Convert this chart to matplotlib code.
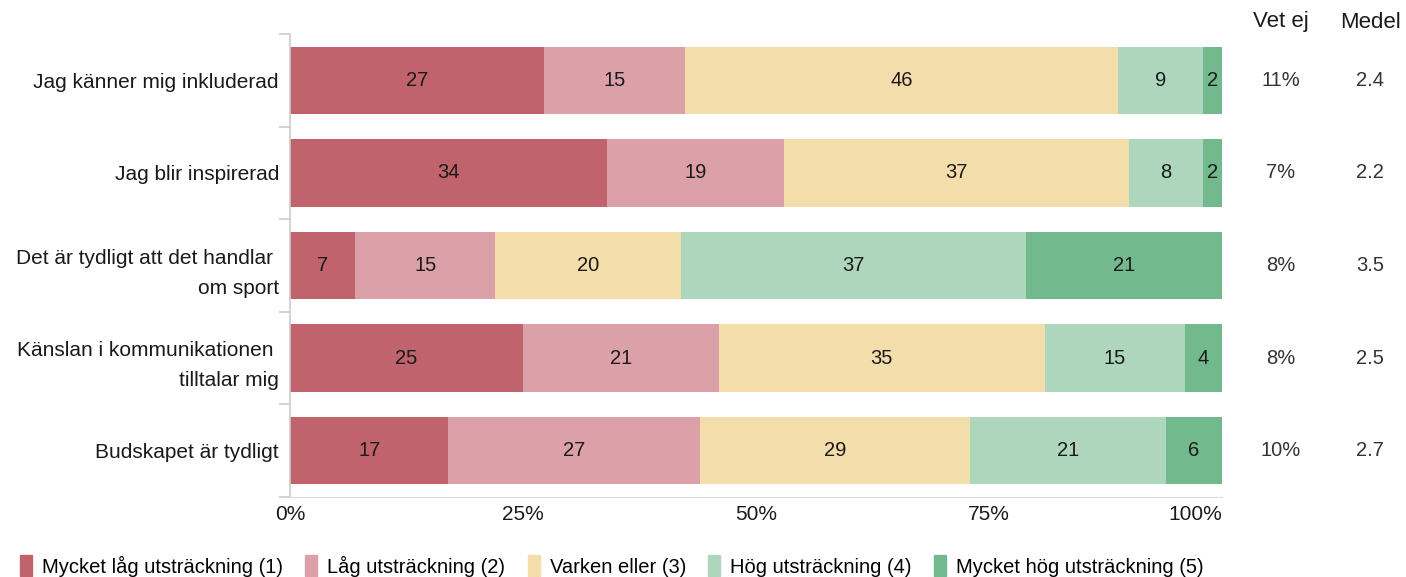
import matplotlib.pyplot as plt
import matplotlib.transforms as mtransforms
from matplotlib.patches import Patch
import numpy as np

plt.rcParams['font.family'] = ['Liberation Sans', 'DejaVu Sans']

categories = ['Jag känner mig inkluderad', 'Jag blir inspirerad',
              'Det är tydligt att det handlar \nom sport',
              'Känslan i kommunikationen \ntilltalar mig', 'Budskapet är tydligt']
series = ['Mycket låg utsträckning (1)', 'Låg utsträckning (2)', 'Varken eller (3)',
          'Hög utsträckning (4)', 'Mycket hög utsträckning (5)']
values = np.array([
    [27, 15, 46, 9, 2],
    [34, 19, 37, 8, 2],
    [7, 15, 20, 37, 21],
    [25, 21, 35, 15, 4],
    [17, 27, 29, 21, 6],
])
vet_ej = ['11%', '7%', '8%', '8%', '10%']
medel = ['2.4', '2.2', '3.5', '2.5', '2.7']
colors = ['#C1636C', '#DCA1A8', '#F3DDAA', '#AED6BD', '#73B98E']

fig = plt.figure(figsize=(14.06, 5.77), dpi=100)
ax = fig.add_axes([290/1406, 1-497/577, 932/1406, 463/577])

y = np.arange(len(categories))
widths = values / values.sum(axis=1, keepdims=True) * 100
left = np.zeros(len(categories))
for j in range(len(series)):
    ax.barh(y, widths[:, j], left=left, height=0.73, color=colors[j], label=series[j])
    for i in range(len(categories)):
        ax.text(left[i] + widths[i, j] / 2, y[i], str(values[i, j]),
                ha='center', va='center', fontsize=14.5, color='#1a1a1a')
    left += widths[:, j]

ax.set_xlim(0, 100)
ax.set_ylim(4.5, -0.5)
ax.set_yticks(y)
ax.set_yticklabels(categories, fontsize=15, color='#1a1a1a', linespacing=1.75)
ax.set_yticks(np.arange(-0.5, 5, 1), minor=True)
ax.tick_params(axis='y', which='major', length=0, pad=8)
ax.tick_params(axis='y', which='minor', length=8, color='#cccccc', width=1.2)
ax.set_xticks([0, 25, 50, 75, 100])
xlabels = ax.set_xticklabels(['0%', '25%', '50%', '75%', '100%'], fontsize=15, color='#1a1a1a')
xlabels[-1].set_ha('right')
ax.tick_params(axis='x', length=0, pad=6)
for s in ['top', 'right']:
    ax.spines[s].set_visible(False)
ax.spines['left'].set_color('#cccccc')
ax.spines['bottom'].set_color('#dddddd')
ax.spines['left'].set_linewidth(1.2)

trans = mtransforms.blended_transform_factory(fig.transFigure, ax.transData)
for i in range(len(categories)):
    ax.text(1281/1406, y[i], vet_ej[i], transform=trans, ha='center', va='center',
            fontsize=14.5, color='#333333')
    ax.text(1370/1406, y[i], medel[i], transform=trans, ha='center', va='center',
            fontsize=14.5, color='#333333')
fig.text(1281/1406, 1-22/577, 'Vet ej', ha='center', va='center', fontsize=16, color='#1a1a1a')
fig.text(1370/1406, 1-22/577, 'Medel', ha='center', va='center', fontsize=16, color='#1a1a1a')

handles = [Patch(color=c) for c in colors]
fig.legend(handles, series, loc='center left', bbox_to_anchor=(20/1406, 1-566/577), ncol=5,
           frameon=False, fontsize=14.5, handlelength=0.6, handleheight=1.2,
           handletextpad=0.5, columnspacing=1.1, borderpad=0, borderaxespad=0)

fig.savefig('out.png', dpi=100)
